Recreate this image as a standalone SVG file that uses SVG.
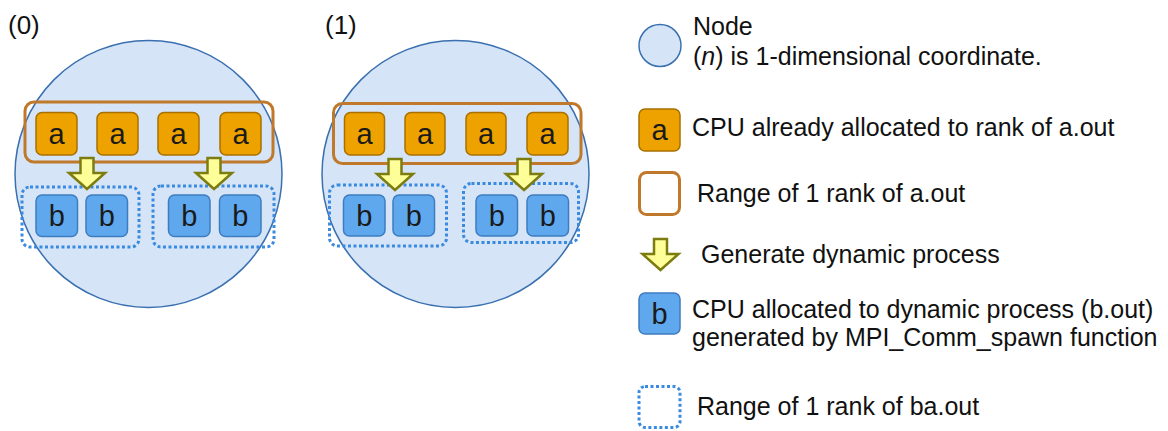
<svg xmlns="http://www.w3.org/2000/svg" width="1168" height="431" viewBox="0 0 1168 431">
<defs>
<style>
.node{fill:#d5e5f7;stroke:#3a70b0;stroke-width:1.5}
.a{fill:#eda200;stroke:#a87000;stroke-width:1.5}
.b{fill:#5fa8ee;stroke:#3d7cc0;stroke-width:1.5}
.rng{fill:none;stroke:#c0792a;stroke-width:3}
.dot{fill:none;stroke:#3a8ae0;stroke-width:3;stroke-dasharray:3 2.5}
.arr{fill:#ffff99;stroke:#7c7c10;stroke-width:2.5;stroke-linejoin:miter}
.lt{font-family:"Liberation Sans",Arial,sans-serif;font-size:29px;fill:#1a1a1a;text-anchor:middle}
.t{font-family:"Liberation Sans",Arial,sans-serif;font-size:25px;fill:#111}
.lab{font-family:"Liberation Sans",Arial,sans-serif;font-size:26px;fill:#111}
</style>
<path id="arrow" class="arr" d="M-6.5,0 H6.5 V15 H18 L0,31 L-18,15 H-6.5 Z"/>
</defs>

<g id="node0">
<text class="lab" x="8" y="34">(0)</text>
<circle class="node" cx="148.5" cy="174" r="133.5"/>
<rect class="rng" x="25" y="102" width="248" height="60" rx="9"/>
<rect class="a" x="36" y="112.5" width="41" height="42.5" rx="6"/><text class="lt" x="56.5" y="144">a</text>
<rect class="a" x="97" y="112.5" width="41" height="42.5" rx="6"/><text class="lt" x="117.5" y="144">a</text>
<rect class="a" x="158" y="112.5" width="41" height="42.5" rx="6"/><text class="lt" x="178.5" y="144">a</text>
<rect class="a" x="220" y="112.5" width="41" height="42.5" rx="6"/><text class="lt" x="240.5" y="144">a</text>
<rect class="dot" x="22" y="187" width="117" height="60" rx="8"/>
<rect class="dot" x="153" y="186" width="121" height="61" rx="8"/>
<rect class="b" x="36" y="195" width="41.5" height="41.5" rx="6"/><text class="lt" x="56.75" y="226">b</text>
<rect class="b" x="86" y="195" width="41.5" height="41.5" rx="6"/><text class="lt" x="106.75" y="226">b</text>
<rect class="b" x="168.5" y="195" width="41.5" height="41.5" rx="6"/><text class="lt" x="189.25" y="226">b</text>
<rect class="b" x="219.5" y="195" width="41.5" height="41.5" rx="6"/><text class="lt" x="240.25" y="226">b</text>
</g>

<g id="node1">
<text class="lab" x="325" y="34">(1)</text>
<circle class="node" cx="455.5" cy="174" r="133.5"/>
<rect class="rng" x="333.5" y="103.5" width="247.5" height="60" rx="9"/>
<rect class="a" x="344.5" y="112.5" width="40" height="42.5" rx="6"/><text class="lt" x="364.5" y="144">a</text>
<rect class="a" x="405" y="112.5" width="40" height="42.5" rx="6"/><text class="lt" x="425" y="144">a</text>
<rect class="a" x="466" y="112.5" width="40" height="42.5" rx="6"/><text class="lt" x="486" y="144">a</text>
<rect class="a" x="527" y="112.5" width="41" height="42.5" rx="6"/><text class="lt" x="547.5" y="144">a</text>
<rect class="dot" x="329.5" y="185" width="117" height="61" rx="8"/>
<rect class="dot" x="463.5" y="183.5" width="115" height="59" rx="8"/>
<rect class="b" x="343.5" y="195" width="41.5" height="41" rx="6"/><text class="lt" x="364.25" y="226">b</text>
<rect class="b" x="393" y="195" width="41.5" height="41" rx="6"/><text class="lt" x="413.75" y="226">b</text>
<rect class="b" x="476" y="195" width="41.5" height="41" rx="6"/><text class="lt" x="496.75" y="226">b</text>
<rect class="b" x="527" y="195" width="41.5" height="41" rx="6"/><text class="lt" x="547.75" y="226">b</text>
</g>

<g id="connectors">
<use href="#arrow" x="87" y="158"/>
<use href="#arrow" x="214" y="158"/>
<use href="#arrow" x="395" y="159"/>
<use href="#arrow" x="524" y="159"/>
</g>

<g id="legend">
<g id="leg-node">
<circle class="node" cx="660" cy="45.5" r="21"/>
<text class="t" x="693" y="35">Node</text>
<text class="t" x="693" y="65">(<tspan font-style="italic">n</tspan>) is 1-dimensional coordinate.</text>
</g>
<g id="leg-a">
<rect class="a" x="639" y="109" width="41" height="42" rx="6"/><text class="lt" x="659.5" y="140">a</text>
<text class="t" x="692" y="136">CPU already allocated to rank of a.out</text>
</g>
<g id="leg-range">
<rect class="rng" x="639.5" y="172.5" width="40" height="42" rx="7"/>
<text class="t" x="697" y="202">Range of 1 rank of a.out</text>
</g>
<g id="leg-arrow">
<use href="#arrow" x="660.5" y="239"/>
<text class="t" x="701" y="263">Generate dynamic process</text>
</g>
<g id="leg-b">
<rect class="b" x="639" y="293" width="41" height="41" rx="6"/><text class="lt" x="659.5" y="324">b</text>
<text class="t" x="692" y="318">CPU allocated to dynamic process (b.out)</text>
<text class="t" x="692" y="346">generated by MPI_Comm_spawn function</text>
</g>
<g id="leg-dot">
<rect class="dot" x="639" y="386.5" width="41" height="41" rx="6"/>
<text class="t" x="697" y="415">Range of 1 rank of ba.out</text>
</g>
</g>
</svg>
